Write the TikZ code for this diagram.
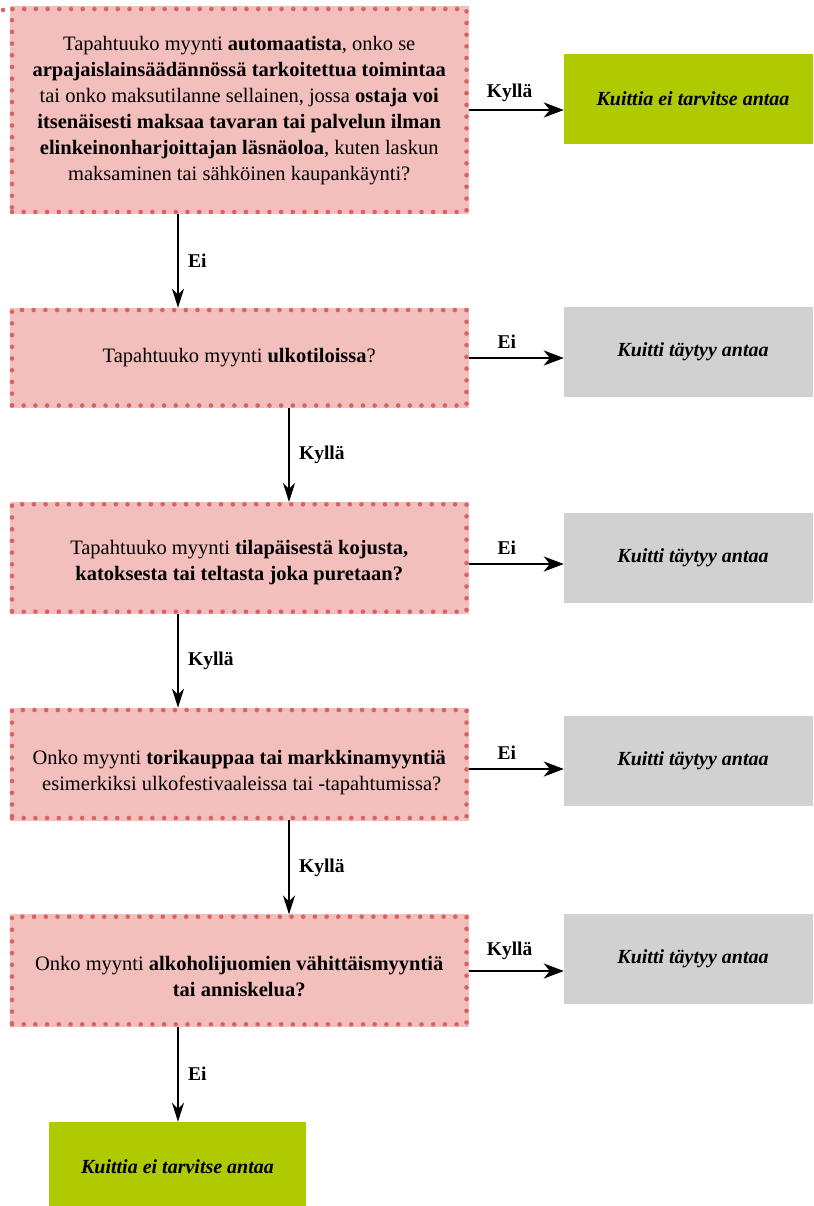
\documentclass[tikz,border=0pt]{standalone}
\usepackage{fontspec}
\setmainfont{Liberation Serif}
\usetikzlibrary{arrows.meta}
\definecolor{pinkfill}{HTML}{F2BFBD}
\definecolor{dotc}{HTML}{D96361}
\definecolor{limeg}{HTML}{AFCA00}
\definecolor{greyb}{HTML}{D1D1D1}
\begin{document}
\begin{tikzpicture}[x=1pt,y=-1pt,
  qbox/.style={rectangle, minimum width=454.5pt, inner sep=0pt, align=center,
    font=\fontsize{20.5}{26}\selectfont, fill=pinkfill,
    preaction={draw=pinkfill, solid, line width=5pt},
    draw=dotc, line width=4.6pt, dash pattern=on 0pt off 11.7pt, line cap=round},
  res/.style={rectangle, inner sep=0pt, minimum height=90pt, minimum width=258pt,
    font=\fontsize{20}{24}\selectfont\bfseries\itshape},
  yesbox/.style={res, fill=limeg},
  mustbox/.style={res, fill=greyb},
  harr/.style={-{Stealth[length=20pt,width=15pt,inset=6pt]}, line width=2.7pt},
  varr/.style={-{Stealth[length=19pt,width=12pt,inset=6pt]}, line width=2.2pt},
  lab/.style={font=\fontsize{19.5}{22}\selectfont\bfseries, inner sep=0pt}]
\useasboundingbox (0,0) rectangle (813,1206);
\clip (0,0) rectangle (813,1206);
\fill[white] (0,0) rectangle (813,1206);

% question boxes
\node[qbox, minimum height=203pt] (b1) at (239.25,110.5)
 {Tapahtuuko myynti \textbf{automaatista}, onko se\\
  \textbf{arpajaislainsäädännössä tarkoitettua toimintaa}\\
  tai onko maksutilanne sellainen, jossa \textbf{ostaja voi}\\
  \textbf{itsenäisesti maksaa tavaran tai palvelun ilman}\\
  \textbf{elinkeinonharjoittajan läsnäoloa}, kuten laskun\\
  maksaminen tai sähköinen kaupankäynti?};
\node[qbox, minimum height=95.5pt] (b2) at (239.25,357.75)
 {Tapahtuuko myynti \textbf{ulkotiloissa}?};
\node[qbox, minimum height=107.4pt] (b3) at (239.25,558)
 {\rule{0pt}{24pt}Tapahtuuko myynti \textbf{tilapäisestä kojusta,}\\
  \textbf{katoksesta tai teltasta joka puretaan?}};
\node[qbox, minimum height=108pt] (b4) at (239.25,764)
 {\rule{0pt}{31pt}Onko myynti \textbf{torikauppaa tai markkinamyyntiä}\\
  \hspace*{5pt}esimerkiksi ulkofestivaaleissa tai -tapahtumissa?};
\node[qbox, minimum height=107.6pt] (b5) at (239.25,970.5)
 {\rule{0pt}{26pt}Onko myynti \textbf{alkoholijuomien vähittäismyyntiä}\\
  \textbf{tai anniskelua?}};

\fill[dotc] (3,10) circle (2.3pt);

% result boxes
\node[yesbox] (g1) at (693,99) {Kuittia ei tarvitse antaa};
\node[mustbox] (g2) at (693,352) {Kuitti täytyy antaa};
\node[mustbox] (g3) at (693,558) {Kuitti täytyy antaa};
\node[mustbox] (g4) at (693,760.5) {Kuitti täytyy antaa};
\node[mustbox] (g5) at (693,958.5) {Kuitti täytyy antaa};
\node[yesbox, minimum width=257pt, minimum height=89pt] (g6) at (177.5,1166.5)
 {Kuittia ei tarvitse antaa};

% horizontal connectors
\draw[harr] (b1.east |- 0,110) -- (g1.west |- 0,110)
  node[lab, pos=0.43, yshift=17.5pt] {Kyllä};
\draw[harr] (b2.east |- 0,358) -- (g2.west |- 0,358)
  node[lab, pos=0.40, yshift=16pt] {Ei};
\draw[harr] (b3.east |- 0,564) -- (g3.west |- 0,564)
  node[lab, pos=0.40, yshift=16pt] {Ei};
\draw[harr] (b4.east |- 0,769) -- (g4.west |- 0,769)
  node[lab, pos=0.40, yshift=16pt] {Ei};
\draw[harr] (b5.east |- 0,971) -- (g5.west |- 0,971)
  node[lab, pos=0.43, yshift=20pt] {Kyllä};

% vertical connectors
\draw[varr] ([xshift=-61.25pt]b1.south) -- ([xshift=-61.25pt]b2.north)
  node[lab, midway, right=9pt] {Ei};
\draw[varr] ([xshift=49.75pt]b2.south) -- ([xshift=49.75pt]b3.north)
  node[lab, midway, right=9pt] {Kyllä};
\draw[varr] ([xshift=-61.25pt]b3.south) -- ([xshift=-61.25pt]b4.north)
  node[lab, midway, right=9pt] {Kyllä};
\draw[varr] ([xshift=49.75pt]b4.south) -- ([xshift=49.75pt]b5.north)
  node[lab, midway, right=9pt] {Kyllä};
\draw[varr] ([xshift=-61.25pt]b5.south) -- ([xshift=-61.25pt]b5.south |- g6.north)
  node[lab, midway, right=9pt] {Ei};
\end{tikzpicture}
\end{document}
